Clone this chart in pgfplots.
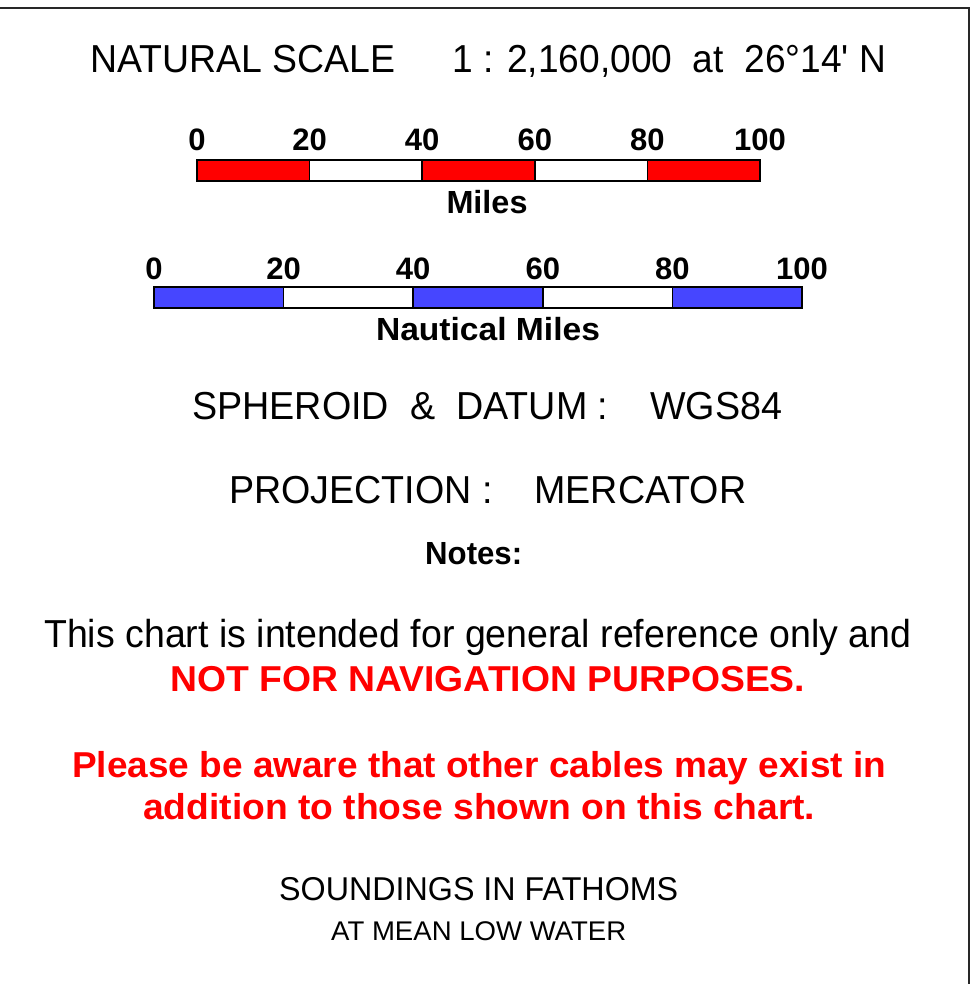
\documentclass[border=0pt]{standalone}
\usepackage{fontspec}
\setmainfont{Liberation Sans}[Ligatures=TeXOff]
\usepackage{graphicx}
\usepackage{pgfplots}
\pgfplotsset{compat=1.18}
\definecolor{barred}{RGB}{255,0,0}
\definecolor{barblue}{RGB}{70,70,255}
\definecolor{framegray}{RGB}{40,40,40}
% text scaled to a given width, keeping the font's own height
\newcommand\txt[3]{\resizebox{#2}{\height}{\fontsize{#1}{#1}\selectfont #3}}
\newcommand\txtb[3]{\resizebox{#2}{\height}{\fontsize{#1}{#1}\selectfont\bfseries #3}}

\pgfplotstableread{
x  red white
0   1  0
20  0  1
40  1  0
60  0  1
80  1  0
100 0  0
}\scaledata

\pgfplotsset{scalebar/.style={
  scale only axis, height=21pt,
  xmin=0, xmax=100, ymin=0, ymax=1,
  axis line style={black, line width=1.6pt},
  xtick={0,20,40,60,80,100}, ytick=\empty,
  xticklabels={0,20,40,60,80,100},
  major tick length=0pt,
  xticklabel pos=upper,
  xticklabel style={anchor=base, font=\fontsize{31}{31}\selectfont\bfseries},
  clip=false,
}}

\begin{document}
\begin{tikzpicture}[x=1pt,y=1pt]
\useasboundingbox (0,0) rectangle (972,984);
% frame lines
\draw[framegray, line width=2pt] (0,976) -- (969,976) -- (969,0);

% title line
\node[anchor=base west, inner sep=0] at (90,911) {\txt{39}{305pt}{NATURAL SCALE}};
\node[anchor=base west, inner sep=0] at (452,911) {\txt{39}{434pt}{1 : 2,160,000\ \ at\ \ 26°14' N}};

% Miles scale bar
\begin{axis}[scalebar,
  at={(197pt,803pt)}, anchor=south west, width=563pt,
  xticklabel style={yshift=9pt},
]
\addplot[ybar interval, fill=barred, draw=black, line width=1.6pt] table[x=x, y=red] {\scaledata};
\addplot[ybar interval, fill=white, draw=black, line width=1.6pt] table[x=x, y=white] {\scaledata};
\end{axis}
\node[anchor=base, inner sep=0] at (487,770) {\txtb{32}{81pt}{Miles}};

% Nautical miles scale bar
\begin{axis}[scalebar,
  at={(154pt,676pt)}, anchor=south west, width=648pt,
  xticklabel style={yshift=7pt},
]
\addplot[ybar interval, fill=barblue, draw=black, line width=1.6pt] table[x=x, y=red] {\scaledata};
\addplot[ybar interval, fill=white, draw=black, line width=1.6pt] table[x=x, y=white] {\scaledata};
\end{axis}
\node[anchor=base, inner sep=0] at (488,643) {\txtb{32}{224pt}{Nautical Miles}};

% datum / projection
\node[anchor=base west, inner sep=0] at (192,564) {\txt{39}{590pt}{SPHEROID\ \ \&\ \ DATUM :\ \ \ \ WGS84}};
\node[anchor=base west, inner sep=0] at (229,480) {\txt{39}{517pt}{PROJECTION :\ \ \ \ MERCATOR}};

% notes
\node[anchor=base west, inner sep=0] at (425,419) {\txtb{32}{97pt}{Notes:}};
\node[anchor=base west, inner sep=0] at (44,336) {\txt{39}{867pt}{This chart is intended for general reference only and}};
\node[anchor=base west, inner sep=0, text=barred] at (170,292) {\txtb{36}{635pt}{NOT FOR NAVIGATION PURPOSES.}};
\node[anchor=base west, inner sep=0, text=barred] at (72,206) {\txtb{36}{814pt}{Please be aware that other cables may exist in}};
\node[anchor=base west, inner sep=0, text=barred] at (143,164) {\txtb{36}{672pt}{addition to those shown on this chart.}};

% soundings
\node[anchor=base west, inner sep=0] at (279,83) {\txt{33}{399pt}{SOUNDINGS IN FATHOMS}};
\node[anchor=base west, inner sep=0] at (331,43) {\txt{27}{295pt}{AT MEAN LOW WATER}};
\end{tikzpicture}
\end{document}
